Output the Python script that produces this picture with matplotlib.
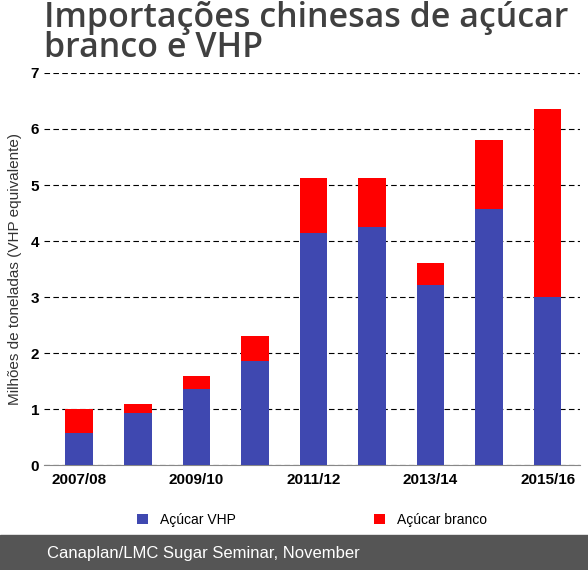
import matplotlib.pyplot as plt
import numpy as np

plt.rcParams['font.family'] = ['Liberation Sans', 'DejaVu Sans']

seasons = ['2007/08', '2008/09', '2009/10', '2010/11', '2011/12',
           '2012/13', '2013/14', '2014/15', '2015/16']
vhp = [0.57, 0.93, 1.36, 1.86, 4.14, 4.25, 3.21, 4.57, 3.00]
branco = [0.43, 0.16, 0.23, 0.44, 0.99, 0.88, 0.40, 1.23, 3.36]
tick_labels = ['2007/08', '', '2009/10', '', '2011/12', '', '2013/14', '', '2015/16']

fig = plt.figure(figsize=(5.88, 5.70), dpi=100)
ax = fig.add_axes([0.075, 0.184, 0.911, 0.688])

x = np.arange(len(seasons))
ax.bar(x, vhp, width=0.47, color='#3f48b0', label='Açúcar VHP', zorder=3)
ax.bar(x, branco, width=0.47, bottom=vhp, color='#ff0000', label='Açúcar branco', zorder=3)

ax.set_ylim(0, 7)
ax.set_xlim(-0.6, 8.55)
ax.set_yticks(range(8))
ax.set_xticks(x)
ax.set_xticklabels(tick_labels, fontweight='bold', fontsize=11)
ax.tick_params(axis='y', labelsize=11, length=0)
ax.tick_params(axis='x', length=0, pad=6)
for lbl in ax.get_yticklabels():
    lbl.set_fontweight('bold')
ax.yaxis.grid(True, linestyle=(0, (5, 3)), color='black', linewidth=0.8, zorder=0)
for s in ['top', 'right', 'left']:
    ax.spines[s].set_visible(False)
ax.spines['bottom'].set_color('#888888')
ax.set_ylabel('Milhões de toneladas (VHP equivalente)', fontsize=11, color='#333333', labelpad=6)

fig.text(0.075, 0.999, 'Importações chinesas de açúcar\nbranco e VHP', fontsize=24.5,
         fontfamily=['Open Sans', 'DejaVu Sans'], fontweight='semibold',
         color='#404040', va='top', linespacing=0.85)

ax.legend(loc='upper center', bbox_to_anchor=(0.5, -0.09), ncol=2, frameon=False,
          fontsize=10, handlelength=0.8, handleheight=0.8, columnspacing=10)

fig.patches.append(plt.Rectangle((0, 0), 1, 0.062, transform=fig.transFigure,
                                 color='#555555', zorder=0))
fig.text(0.08, 0.029, 'Canaplan/LMC Sugar Seminar, November', color='white',
         fontsize=12, va='center')

fig.savefig('out.png', dpi=100)
